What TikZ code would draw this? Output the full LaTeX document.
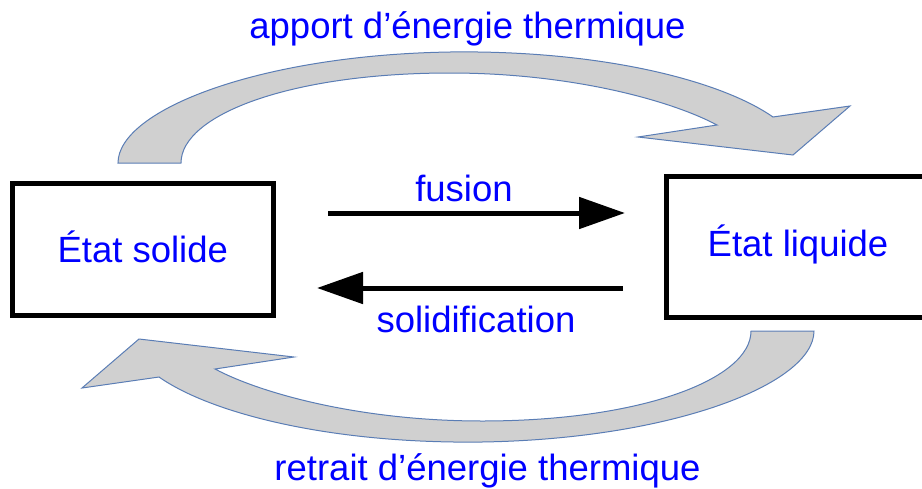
\documentclass[tikz,border=0pt]{standalone}
\usepackage{fontspec}
\setmainfont{Liberation Sans}
\usetikzlibrary{arrows.meta, positioning}
\definecolor{cblue}{HTML}{0000FF}
\definecolor{cgrey}{HTML}{D0D0D0}
\definecolor{cedge}{HTML}{5A7DB5}
\tikzset{
  every picture/.style={line width=5pt},
  box/.style={draw=black, rectangle, text=cblue, font=\fontsize{36.5}{40}\selectfont, text height=26pt, text depth=0pt, inner sep=0pt, outer sep=0pt},
  flow/.style={-{Triangle[length=46pt, width=31pt]}, draw=black, line width=5pt},
  heat/.style={fill=cgrey, draw=cedge, line width=1pt, line join=miter},
  txt/.style={text=cblue, font=\fontsize{36.5}{40}\selectfont, anchor=base, inner sep=0pt},
}

\begin{document}
\begin{tikzpicture}[x=1pt, y=-1pt]
  \clip (0,0) rectangle (922,488);
  % big curved arrows, the lower one is the upper one turned round
  \foreach \a in {0,180}
    \draw[heat, rotate around={\a:(466,247)}] (118,163) .. controls (118,110) and (260,55) .. (450,52)
      .. controls (600,50) and (720,80) .. (773,117) -- (850,106) -- (793,155) -- (638,137) -- (717,125)
      .. controls (670,100) and (570,73) .. (450,73) .. controls (290,73) and (181,115) .. (181,163) -- cycle;
  \node[box, minimum width=261.5pt, minimum height=131.5pt] (solide) at (142.75,249.25) {État solide};
  \node[box, minimum width=263pt, minimum height=141pt, text depth=8pt] (liquide) at (798,247) {État liquide};
  \draw[flow] ([xshift=54.5pt, yshift=36.25pt]solide.east) -- ([xshift=-41.5pt, yshift=34pt]liquide.west);
  \draw[flow] ([xshift=-43.5pt, yshift=-41pt]liquide.west) -- ([xshift=43.5pt, yshift=-38.75pt]solide.east);
  \node[txt] (fusion) at (464,201) {fusion};
  \node[txt] (solidif) at (476,332) {solidification};
  \node[txt] (apport) at (467.5,38) {apport d’énergie thermique};
  \node[txt] (retrait) at (487.5,480) {retrait d’énergie thermique};
\end{tikzpicture}
\end{document}
